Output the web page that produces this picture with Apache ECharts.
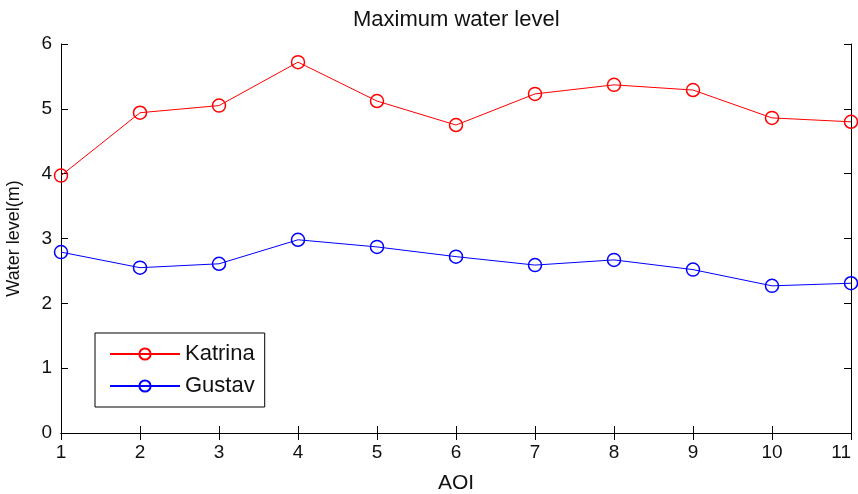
<!DOCTYPE html>
<html>
<head>
<meta charset="utf-8">
<script src="https://cdn.jsdelivr.net/npm/echarts@6/dist/echarts.min.js"></script>
<style>
  html, body { margin: 0; padding: 0; background: #fff; }
  #chart { width: 858px; height: 494px; }
</style>
</head>
<body>
<div id="chart"></div>
<script>
// data
var aoi = [1, 2, 3, 4, 5, 6, 7, 8, 9, 10, 11];
var katrina = [3.97, 4.94, 5.05, 5.72, 5.12, 4.75, 5.23, 5.37, 5.29, 4.86, 4.80];
var gustav = [2.79, 2.55, 2.61, 2.98, 2.87, 2.72, 2.59, 2.67, 2.52, 2.27, 2.31];

function pairs(xs, ys) {
  return xs.map(function (x, i) { return [x, ys[i]]; });
}

var font = 'Liberation Sans, Arial, sans-serif';
var axisLine = { show: true, lineStyle: { color: '#000', width: 1 } };
var tick = { show: true, inside: true, length: 7, lineStyle: { color: '#000' } };

var chart = echarts.init(document.getElementById('chart'));
var option = {
  animation: false,
  backgroundColor: '#fff',
  title: {
    text: 'Maximum water level',
    left: 348,
    top: 4,
    textStyle: { fontFamily: font, fontSize: 22, fontWeight: 'normal', color: '#111' }
  },
  legend: {
    left: 95,
    top: 333,
    orient: 'vertical',
    width: 172,
    padding: [10, 10, 10, 14],
    itemGap: 10,
    itemWidth: 70,
    itemHeight: 14,
    borderColor: '#000',
    borderWidth: 1,
    backgroundColor: '#fff',
    textStyle: { fontFamily: font, fontSize: 22, color: '#111' },
    data: ['Katrina', 'Gustav']
  },
  grid: { left: 61, right: 7, top: 44, bottom: 61, outerBoundsMode: 'none' },
  xAxis: [{
    type: 'value',
    min: 1, max: 11, interval: 1,
    name: 'AOI',
    nameLocation: 'middle',
    nameGap: 40,
    nameTextStyle: { fontFamily: font, fontSize: 21, color: '#111' },
    axisLine: axisLine,
    axisTick: tick,
    splitLine: { show: false },
    axisLabel: { fontFamily: font, fontSize: 19, color: '#111', margin: 10, alignMaxLabel: 'right' }
  }, {
    type: 'value',
    position: 'top',
    min: 1, max: 11, interval: 1,
    axisLine: axisLine,
    axisTick: tick,
    splitLine: { show: false },
    axisLabel: { show: false }
  }],
  yAxis: [{
    type: 'value',
    min: 0, max: 6, interval: 1,
    name: 'Water level(m)',
    nameLocation: 'middle',
    nameGap: 38,
    nameTextStyle: { fontFamily: font, fontSize: 18, color: '#111' },
    axisLine: axisLine,
    axisTick: tick,
    splitLine: { show: false },
    axisLabel: { fontFamily: font, fontSize: 19, color: '#111', margin: 9 }
  }, {
    type: 'value',
    position: 'right',
    min: 0, max: 6, interval: 1,
    axisLine: axisLine,
    axisTick: tick,
    splitLine: { show: false },
    axisLabel: { show: false }
  }],
  series: [{
    name: 'Katrina',
    type: 'line',
    data: pairs(aoi, katrina),
    symbol: 'circle',
    symbolSize: 13,
    color: '#ff0000',
    lineStyle: { width: 1, color: '#ff0000' },
    itemStyle: { color: 'rgba(255,255,255,0)', borderColor: '#ff0000', borderWidth: 1.5 }
  }, {
    name: 'Gustav',
    type: 'line',
    data: pairs(aoi, gustav),
    symbol: 'circle',
    symbolSize: 13,
    color: '#0000ff',
    lineStyle: { width: 1, color: '#0000ff' },
    itemStyle: { color: 'rgba(255,255,255,0)', borderColor: '#0000ff', borderWidth: 1.5 }
  }]
};
chart.setOption(option);
</script>
</body>
</html>
